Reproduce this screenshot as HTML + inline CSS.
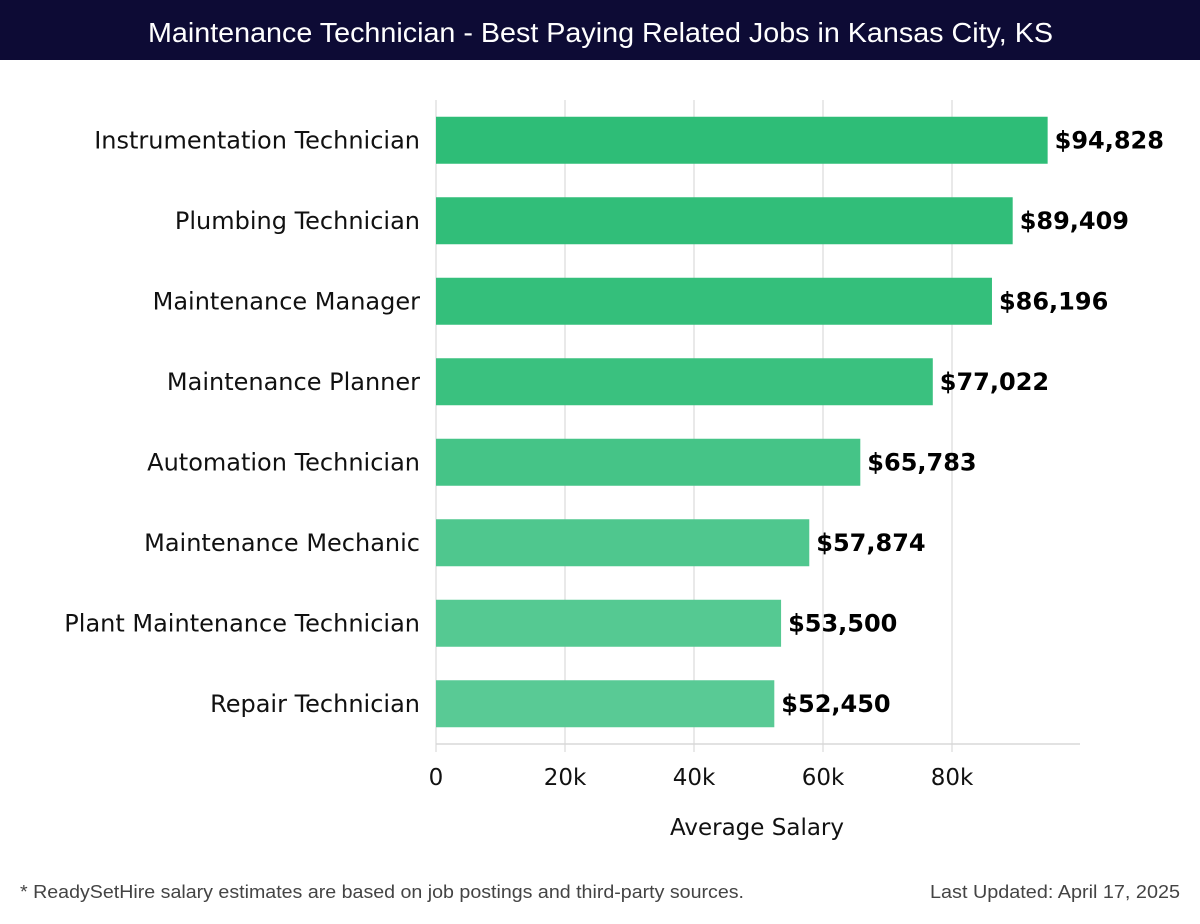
<!DOCTYPE html>
<html><head><meta charset="utf-8"><style>
body{margin:0;background:#fff;width:1200px;height:920px;overflow:hidden;font-family:"DejaVu Sans","Liberation Sans",sans-serif}
</style></head><body>
<svg id="chart" width="1200" height="920" xmlns="http://www.w3.org/2000/svg">
<rect x="0" y="0" width="1200" height="60" fill="#0d0b35"/>
<text x="148" y="42" fill="#fff" font-family="Liberation Sans, sans-serif" font-size="28" textLength="905" lengthAdjust="spacingAndGlyphs">Maintenance Technician - Best Paying Related Jobs in Kansas City, KS</text>
<g id="grid"></g><g id="bars"></g><g id="axis"></g>
<text x="757" y="835" text-anchor="middle" font-size="23" fill="#111">Average Salary</text>
<text x="20" y="898" font-family="Liberation Sans, sans-serif" font-size="18" fill="#444" textLength="724" lengthAdjust="spacingAndGlyphs">* ReadySetHire salary estimates are based on job postings and third-party sources.</text>
<text x="930" y="898" font-family="Liberation Sans, sans-serif" font-size="18" fill="#444" textLength="250" lengthAdjust="spacingAndGlyphs">Last Updated: April 17, 2025</text>
</svg>
<script>
const categories=["Instrumentation Technician","Plumbing Technician","Maintenance Manager","Maintenance Planner","Automation Technician","Maintenance Mechanic","Plant Maintenance Technician","Repair Technician"];
const salaries=[94828,89409,86196,77022,65783,57874,53500,52450];
const valueLabels=["$94,828","$89,409","$86,196","$77,022","$65,783","$57,874","$53,500","$52,450"];
const tickValues=[0,20000,40000,60000,80000];
const tickLabels=["0","20k","40k","60k","80k"];
const NS="http://www.w3.org/2000/svg";
const x=v=>436+v*(516/80000);
const y=i=>100+i*80.5;
const band=80.5,barH=47;
function mk(t,a,p){const e=document.createElementNS(NS,t);for(const k in a)e.setAttribute(k,a[k]);p.appendChild(e);return e;}
const grid=document.getElementById('grid'),bars=document.getElementById('bars'),axis=document.getElementById('axis');
tickValues.forEach((v,i)=>{
 const l=mk('line',{x1:x(v),x2:x(v),y1:100,y2:752,stroke:'#e2e2e2','stroke-width':1.5},grid);
 
 
 const t=mk('text',{x:x(v),y:785,'text-anchor':'middle','font-size':23,fill:'#111'},axis);
 t.textContent=tickLabels[i];
 
 
});
const al=mk('line',{x1:436,x2:1080,y1:744,y2:744,stroke:'#d8d8d8','stroke-width':1.5},axis);


const cols=["#2ebd77","#31be79","#34bf7b","#3ac17f","#45c487","#4fc78e","#55c992","#59ca95"];
categories.forEach((c,i)=>{
 const cy=y(i)+band/2;
 const r=mk('rect',{x:436,y:cy-barH/2,width:x(salaries[i])-436,height:barH,fill:cols[i]},bars);
 
 
 const lt=mk('text',{x:420,y:cy+8,'text-anchor':'end','font-size':24,fill:'#111'},bars);
 lt.textContent=c;
 
 
 const vt=mk('text',{x:x(salaries[i])+7,y:cy+8,'font-size':24,'font-weight':'bold',fill:'#000'},bars);
 vt.textContent=valueLabels[i];
 
 
});
</script>
</body></html>
